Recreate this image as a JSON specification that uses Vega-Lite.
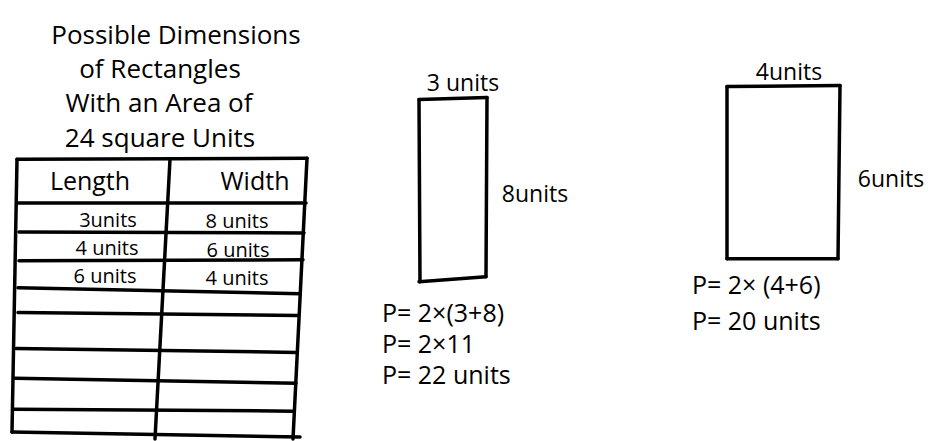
{
  "$schema": "https://vega.github.io/schema/vega-lite/v6.json",
  "width": 935,
  "height": 441,
  "autosize": {"type": "fit", "contains": "padding"},
  "padding": 0,
  "background": "white",
  "config": {"view": {"stroke": null}, "axis": {"disable": true}},
  "datasets": {
    "lines": [
      {"x": 17, "y": 160, "x2": 307, "y2": 159},
      {"x": 18, "y": 204, "x2": 306, "y2": 204},
      {"x": 19, "y": 233, "x2": 304, "y2": 234},
      {"x": 19, "y": 262, "x2": 303, "y2": 261},
      {"x": 18, "y": 289, "x2": 300, "y2": 295},
      {"x": 18, "y": 314, "x2": 298, "y2": 317},
      {"x": 16, "y": 350, "x2": 297, "y2": 354},
      {"x": 15, "y": 380, "x2": 296, "y2": 385},
      {"x": 14, "y": 411, "x2": 294, "y2": 413},
      {"x": 12, "y": 434, "x2": 300, "y2": 439},
      {"x": 17, "y": 160, "x2": 12, "y2": 434},
      {"x": 170, "y": 160, "x2": 155, "y2": 441},
      {"x": 307, "y": 159, "x2": 293, "y2": 441},
      {"x": 419, "y": 100, "x2": 487, "y2": 98},
      {"x": 487, "y": 98, "x2": 486, "y2": 278},
      {"x": 419, "y": 283, "x2": 486, "y2": 278},
      {"x": 419, "y": 100, "x2": 420, "y2": 283},
      {"x": 727, "y": 87, "x2": 840, "y2": 86},
      {"x": 840, "y": 86, "x2": 838, "y2": 260},
      {"x": 727, "y": 260, "x2": 838, "y2": 260},
      {"x": 727, "y": 87, "x2": 727, "y2": 260}
    ],
    "title": [
      {"x": 176, "y": 36, "t": "Possible Dimensions"},
      {"x": 160, "y": 70, "t": "of Rectangles"},
      {"x": 159, "y": 104, "t": "With an Area of"},
      {"x": 160, "y": 140, "t": "24 square Units"}
    ],
    "header": [
      {"x": 90, "y": 183, "t": "Length"},
      {"x": 255, "y": 183, "t": "Width"}
    ],
    "cells": [
      {"x": 108, "y": 222, "t": "3units"},
      {"x": 237, "y": 223, "t": "8 units"},
      {"x": 107, "y": 250, "t": "4 units"},
      {"x": 238, "y": 252, "t": "6 units"},
      {"x": 105, "y": 278, "t": "6 units"},
      {"x": 237, "y": 280, "t": "4 units"}
    ],
    "labels": [
      {"x": 463, "y": 84, "t": "3 units"},
      {"x": 535, "y": 196, "t": "8units"},
      {"x": 789, "y": 73, "t": "4units"},
      {"x": 891, "y": 181, "t": "6units"}
    ],
    "formulas": [
      {"x": 382, "y": 315, "t": "P= 2×(3+8)"},
      {"x": 382, "y": 347, "t": "P= 2×11"},
      {"x": 382, "y": 378, "t": "P= 22 units"},
      {"x": 692, "y": 287, "t": "P= 2× (4+6)"},
      {"x": 692, "y": 323, "t": "P= 20 units"}
    ]
  },
  "layer": [
    {
      "data": {"name": "lines"},
      "mark": {"type": "rule", "color": "black", "strokeWidth": 3.5, "strokeCap": "round"},
      "encoding": {
        "x": {"field": "x", "type": "quantitative", "scale": {"domain": [0, 935], "nice": false, "zero": false}, "axis": null},
        "y": {"field": "y", "type": "quantitative", "scale": {"domain": [0, 441], "nice": false, "zero": false, "reverse": true}, "axis": null},
        "x2": {"field": "x2"},
        "y2": {"field": "y2"}
      }
    },
    {
      "data": {"name": "title"},
      "mark": {"type": "text", "font": "Open Sans", "fontSize": 26, "fontWeight": 500, "align": "center", "baseline": "middle", "color": "black"},
      "encoding": {
        "x": {"field": "x", "type": "quantitative"},
        "y": {"field": "y", "type": "quantitative"},
        "text": {"field": "t"}
      }
    },
    {
      "data": {"name": "header"},
      "mark": {"type": "text", "font": "Open Sans", "fontSize": 25, "fontWeight": 500, "align": "center", "baseline": "middle", "color": "black"},
      "encoding": {
        "x": {"field": "x", "type": "quantitative"},
        "y": {"field": "y", "type": "quantitative"},
        "text": {"field": "t"}
      }
    },
    {
      "data": {"name": "cells"},
      "mark": {"type": "text", "font": "Open Sans", "fontSize": 20, "fontWeight": 500, "align": "center", "baseline": "middle", "color": "black"},
      "encoding": {
        "x": {"field": "x", "type": "quantitative"},
        "y": {"field": "y", "type": "quantitative"},
        "text": {"field": "t"}
      }
    },
    {
      "data": {"name": "labels"},
      "mark": {"type": "text", "font": "Open Sans", "fontSize": 23, "fontWeight": 500, "align": "center", "baseline": "middle", "color": "black"},
      "encoding": {
        "x": {"field": "x", "type": "quantitative"},
        "y": {"field": "y", "type": "quantitative"},
        "text": {"field": "t"}
      }
    },
    {
      "data": {"name": "formulas"},
      "mark": {"type": "text", "font": "Open Sans", "fontSize": 25, "fontWeight": 500, "align": "left", "baseline": "middle", "color": "black"},
      "encoding": {
        "x": {"field": "x", "type": "quantitative"},
        "y": {"field": "y", "type": "quantitative"},
        "text": {"field": "t"}
      }
    }
  ]
}
